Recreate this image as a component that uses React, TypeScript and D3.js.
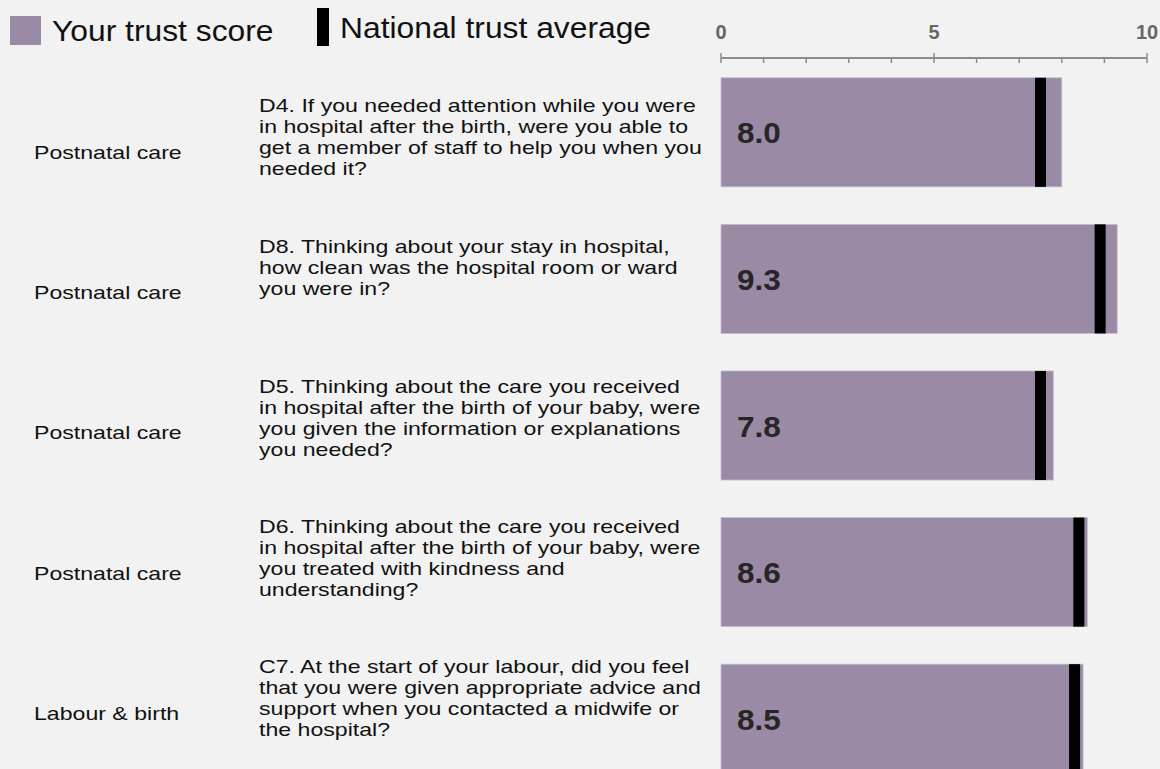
import React, { useEffect } from 'react';
import * as d3 from 'd3';

const categories = ['Postnatal care', 'Postnatal care', 'Postnatal care', 'Postnatal care', 'Labour & birth'];
const questions = [
  ['D4. If you needed attention while you were', 'in hospital after the birth, were you able to', 'get a member of staff to help you when you', 'needed it?'],
  ['D8. Thinking about your stay in hospital,', 'how clean was the hospital room or ward', 'you were in?'],
  ['D5. Thinking about the care you received', 'in hospital after the birth of your baby, were', 'you given the information or explanations', 'you needed?'],
  ['D6. Thinking about the care you received', 'in hospital after the birth of your baby, were', 'you treated with kindness and', 'understanding?'],
  ['C7. At the start of your labour, did you feel', 'that you were given appropriate advice and', 'support when you contacted a midwife or', 'the hospital?'],
];
const trustScores = [8.0, 9.3, 7.8, 8.6, 8.5];
const nationalAverages = [7.5, 8.9, 7.5, 8.4, 8.3];
const tickValues = [0, 1, 2, 3, 4, 5, 6, 7, 8, 9, 10];
const tickLabels = ['0', '5', '10'];

const W = 1160;
const H = 769;
const BG = '#f2f2f2';
const BAR = '#9b8aa5';
const FONT = 'Arial, "Liberation Sans", Helvetica, sans-serif';

// the text in the source is drawn a little wider than it is tall
const TXT_SIZE = 18.2;
const TXT_SX = 1.27;
const LEG_SX = 1.06;

const App: React.FC = () => {
  useEffect(() => {
    document.body.style.margin = '0';
    document.body.style.background = BG;
  }, []);

  const rows = d3.range(categories.length);
  const x = d3.scaleLinear().domain([0, 10]).range([721, 1147]);
  const yBar = d3.scaleBand<number>().domain(rows).range([59, 792]).paddingInner(0.256).paddingOuter(0.128);
  const yText = d3.scaleBand<number>().domain(rows).range([82.3, 783.3]);
  const axisY = 58;

  return (
    <svg width={W} height={H} style={{ display: 'block', position: 'fixed', left: 0, top: 0, background: BG }} fontFamily={FONT}>
      <rect width={W} height={H} fill={BG} />

      {/* legend */}
      <rect x={10} y={16} width={31} height={29} fill={BAR} />
      <text transform={`translate(52,41) scale(${LEG_SX},1)`} fontSize={30} fill="#111">Your trust score</text>
      <rect x={317} y={8} width={12} height={38} fill="#000" />
      <text transform={`translate(340,38) scale(${LEG_SX},1)`} fontSize={30} fill="#111">National trust average</text>

      {/* axis */}
      <g>
        <line x1={x(0)} x2={x(10)} y1={axisY} y2={axisY} stroke="#8c8c8c" strokeWidth={2} />
        {tickValues.map(t => (
          <line key={t} x1={x(t)} x2={x(t)} y1={t % 5 === 0 ? axisY - 5 : axisY} y2={axisY + 5} stroke="#8c8c8c" strokeWidth={1.5} />
        ))}
        {tickLabels.map(l => (
          <text key={l} x={x(+l)} y={39} fontSize={20} fontWeight="bold" fill="#666" textAnchor="middle">{l}</text>
        ))}
      </g>

      {rows.map(i => {
        const y0 = yBar(i) as number;
        const bh = yBar.bandwidth();
        const tc = (yText(i) as number) + yText.bandwidth() / 2;
        const lines = questions[i];
        const lh = 21;
        const first = tc - 40;
        return (
          <g key={i}>
            <text transform={`translate(34,${tc + 6.5}) scale(${TXT_SX},1)`} fontSize={TXT_SIZE} fill="#111">{categories[i]}</text>
            {lines.map((ln, j) => (
              <text key={j} transform={`translate(259,${first + j * lh}) scale(${TXT_SX},1)`} fontSize={TXT_SIZE} fill="#111">{ln}</text>
            ))}
            <rect x={x(0)} y={y0} width={x(trustScores[i]) - x(0)} height={bh} fill={BAR} stroke="#c6bccd" strokeWidth={0.8} />
            <rect x={x(nationalAverages[i]) - 5.5} y={y0} width={11} height={bh} fill="#000" />
            <text transform={`translate(${x(0) + 16},${y0 + bh / 2 + 11}) scale(1.05,1)`} fontSize={30} fontWeight="bold" fill="#262626">
              {trustScores[i].toFixed(1)}
            </text>
          </g>
        );
      })}
    </svg>
  );
};

export default App;
